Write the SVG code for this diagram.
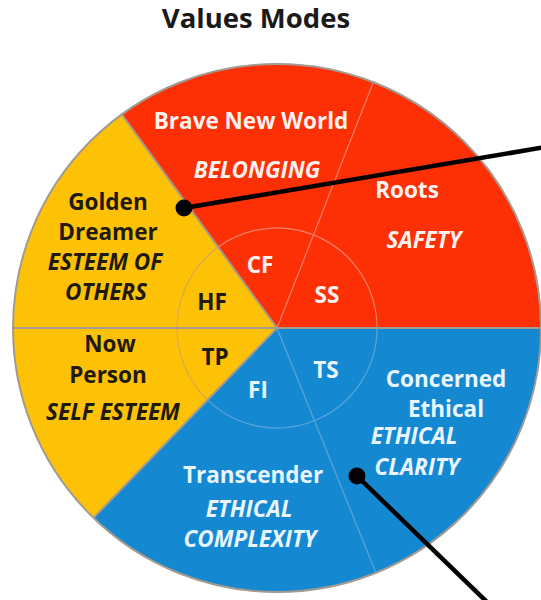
<svg xmlns="http://www.w3.org/2000/svg" width="541" height="600" viewBox="0 0 541 600">
<style>
.t{font-family:"Open Sans","Liberation Sans",sans-serif;font-weight:700;font-size:22.5px;text-anchor:middle}
.i{font-style:italic}
.w{fill:#fff2ee}
.wb{fill:#e8f5ff}
.k{fill:#1e1a10}
.div{stroke:#a39a90;stroke-width:2;fill:none}
.thin{stroke:#f0806a;stroke-width:1.2;fill:none}
.thinb{stroke:#5aa6da;stroke-width:1.2;fill:none}
.ptr{stroke:#000;stroke-width:4.5;fill:none;stroke-linecap:butt}
</style>
<rect width="541" height="600" fill="#fff"/>
<text x="256" y="28" class="t" style="font-size:27.5px;fill:#1a1a1a">Values Modes</text>
<g id="red-sector">
<path d="M277 328 L541 328 A264 264 0 0 0 121.8 114.4 Z" fill="#fc2f05"/>
<line x1="277" y1="328" x2="373.3" y2="82.2" class="thin"/>
<path d="M377 328 A100 100 0 0 0 218.2 247.1" class="thin"/>
<text x="251" y="129" class="t w">Brave New World</text>
<text x="257" y="178" class="t i w">BELONGING</text>
<text x="407" y="198" class="t w">Roots</text>
<text x="424" y="248" class="t i w">SAFETY</text>
<text x="260" y="273" class="t w">CF</text>
<text x="327" y="303" class="t w">SS</text>
</g>
<g id="yellow-sector">
<path d="M277 328 L121.8 114.4 A264 264 0 0 0 93.6 517.9 Z" fill="#fdc106"/>
<path d="M218.2 247.1 A100 100 0 0 0 207.5 399.9" stroke="#d8a850" stroke-width="1.2" fill="none"/>
<text x="108" y="210" class="t k">Golden</text>
<text x="108" y="240" class="t k">Dreamer</text>
<text x="105" y="270" class="t i k">ESTEEM OF</text>
<text x="106" y="300" class="t i k">OTHERS</text>
<text x="212" y="310" class="t k">HF</text>
<text x="110" y="352" class="t k">Now</text>
<text x="108" y="383" class="t k">Person</text>
<text x="113" y="420" class="t i k">SELF ESTEEM</text>
<text x="215" y="365" class="t k">TP</text>
</g>
<g id="blue-sector">
<path d="M277 328 L93.6 517.9 A264 264 0 0 0 541 328 Z" fill="#1588d2"/>
<line x1="277" y1="328" x2="375.9" y2="572.8" class="thinb"/>
<path d="M207.5 399.9 A100 100 0 0 0 377 328" class="thinb"/>
<text x="258" y="398" class="t wb">FI</text>
<text x="326" y="378" class="t wb">TS</text>
<text x="253" y="483" class="t wb">Transcender</text>
<text x="249" y="517" class="t i wb">ETHICAL</text>
<text x="250" y="547" class="t i wb">COMPLEXITY</text>
<text x="446" y="387" class="t wb">Concerned</text>
<text x="446" y="417" class="t wb">Ethical</text>
<text x="414" y="444" class="t i wb">ETHICAL</text>
<text x="417" y="475" class="t i wb">CLARITY</text>
</g>
<g id="outlines">
<path d="M121.8 114.4 L277 328 L93.6 517.9" class="div"/>
<line x1="13" y1="328" x2="541" y2="328" class="div"/>
<circle cx="277" cy="328" r="264" class="div" stroke-width="2.5"/>
</g>
<g id="connectors">
<line x1="184" y1="208" x2="546" y2="147" class="ptr"/>
<circle cx="184" cy="208" r="8.5" fill="#000"/>
<line x1="357" y1="476" x2="489" y2="604" class="ptr"/>
<circle cx="357" cy="476" r="8.5" fill="#000"/>
</g>
</svg>
